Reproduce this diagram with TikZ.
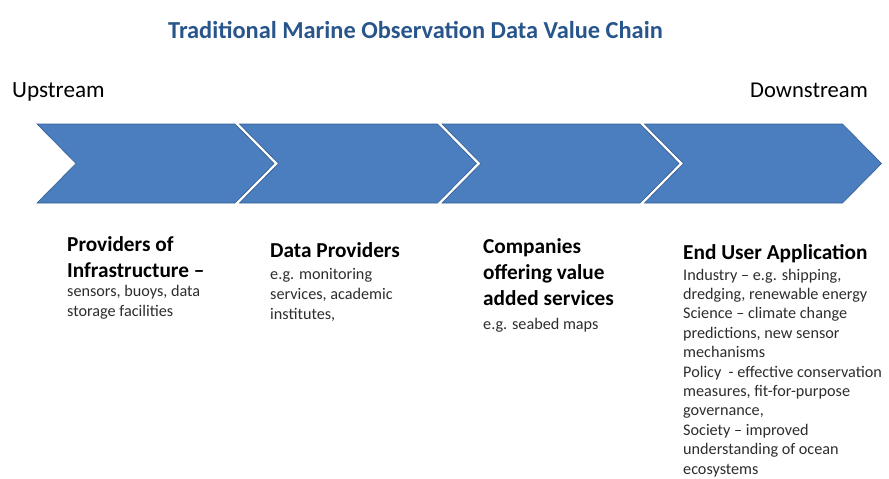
\documentclass[tikz,border=0pt]{standalone}
\usepackage{fontspec}
\setmainfont{Carlito}
\definecolor{chainblue}{RGB}{74,126,190}
\definecolor{chainedge}{RGB}{56,95,145}
\definecolor{titleblue}{RGB}{40,85,140}
\definecolor{bodygray}{RGB}{45,45,45}
\newcommand{\headfont}{\fontsize{21.3}{26}\selectfont\bfseries}
\newcommand{\bodyfont}{\fontsize{16.2}{20}\selectfont}

\begin{document}
\begin{tikzpicture}[x = 1pt, y = -1pt, every node/.style = {inner sep = 0, anchor = base west, align = left}, heading/.style = {font = \headfont}, detail/.style = {font = \bodyfont, text = bodygray}, chevron/.style = {fill = chainblue, draw = chainedge, line width = 0.6pt}]

	\useasboundingbox (0, 0) rectangle (889, 479);

	\node (title) at (415.5, 38) [anchor = base, font = \fontsize{24.4}{29}\selectfont\bfseries, text = titleblue] {Traditional Marine Observation Data Value Chain};
	\node (up)   at ( 12, 97) [font = \fontsize{23.2}{28}\selectfont] {Upstream};
	\node (down) at (868, 97) [anchor = base east, font = \fontsize{22.6}{28}\selectfont] {Downstream};

	\foreach \i in {0,...,3}
		\path[chevron] ({37 + 202.5*\i}, 124) -- ++(198, 0) -- ++(39, 39.5) -- ++(-39, 39.5) -- ++(-198, 0) -- ++(39, -39.5) -- cycle;

	% base of each node = baseline of its last line
	\node (infra)   at ( 67, 277) [heading] {Providers of \\ Infrastructure --};
	\node (data)    at (270, 257) [heading] {Data Providers};
	\node (company) at (483, 305) [heading] {Companies \\ offering value \\ added services};
	\node (user)    at (683, 259) [heading] {End User Application};

	\node (infratxt)   at ( 67, 316.5) [detail] {sensors, buoys, data \\ storage facilities};
	\node (datatxt)    at (270, 319) [detail] {e.g. monitoring \\ services, academic \\ institutes,};
	\node (companytxt) at (483, 329) [detail] {e.g. seabed maps};
	\node (usertxt)    at (683, 474) [detail, font = \fontsize{16.2}{19.4}\selectfont] {Industry -- e.g. shipping, \\ dredging, renewable energy \\ Science -- climate change \\ predictions, new sensor \\ mechanisms \\ Policy \ - effective conservation \\ measures, fit-for-purpose \\ governance, \\ Society -- improved \\ understanding of ocean \\ ecosystems};
\end{tikzpicture}
\end{document}
